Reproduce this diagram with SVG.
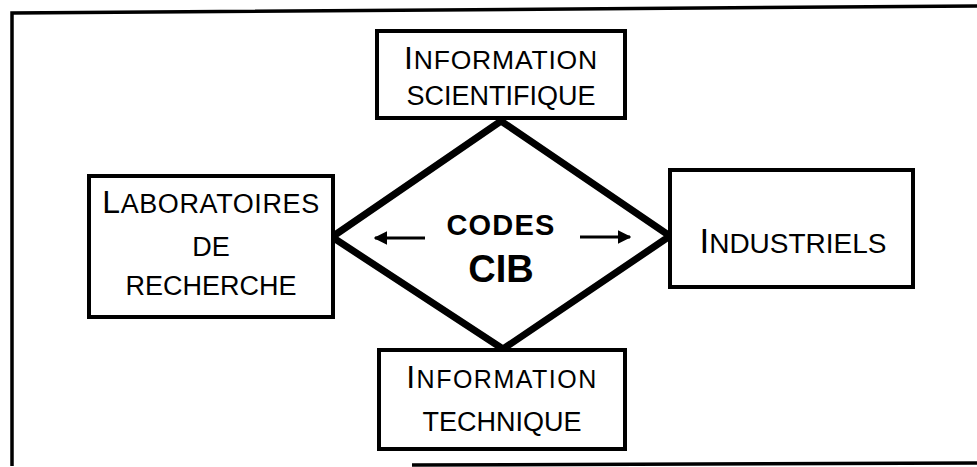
<svg xmlns="http://www.w3.org/2000/svg" width="977" height="467" viewBox="0 0 977 467">
<defs>
<style>
.box{fill:#fff;stroke:#000;stroke-width:4}
.frame{fill:none;stroke:#000;stroke-width:3.5}
.dia{fill:#fff;stroke:#000;stroke-width:7;stroke-linejoin:miter}
.t{font-family:"Liberation Sans",Arial,Helvetica,sans-serif;fill:#000;text-anchor:middle}
.b{font-weight:bold}
.arr{stroke:#000;stroke-width:3;fill:none}
</style>
<marker id="ah" viewBox="0 0 10 10" refX="9" refY="5" markerWidth="4.5" markerHeight="4.5" markerUnits="strokeWidth" orient="auto">
<path d="M0,0 L10,5 L0,10 z" fill="#000"/>
</marker>
</defs>
<rect width="977" height="467" fill="#fff"/>
<g id="frame">
<polyline class="frame" points="12,466 12,13 977,6"/>
<line class="frame" x1="412" y1="465" x2="977" y2="463"/>
</g>
<g id="codes-cib">
<polygon class="dia" points="332,237 501,121 670,236 503,349"/>
<text class="t b" x="501" y="235" font-size="29" letter-spacing="1.2">CODES</text>
<text class="t b" x="501" y="282" font-size="38">CIB</text>
</g>
<g id="info-scientifique">
<rect class="box" x="377" y="31" width="248" height="87"/>
<text class="t" x="501" y="69" letter-spacing="0.8"><tspan font-size="32">I</tspan><tspan font-size="26.5">NFORMATION</tspan></text>
<text class="t" x="501" y="105" font-size="27">SCIENTIFIQUE</text>
</g>
<g id="laboratoires">
<rect class="box" x="89" y="176" width="244" height="141"/>
<text class="t" x="211" y="213" letter-spacing="0.6"><tspan font-size="32">L</tspan><tspan font-size="27">ABORATOIRES</tspan></text>
<text class="t" x="211" y="256" font-size="27">DE</text>
<text class="t" x="211" y="295" font-size="27">RECHERCHE</text>
</g>
<g id="industriels">
<rect class="box" x="670" y="170" width="243" height="117"/>
<text class="t" x="793" y="253"><tspan font-size="35">I</tspan><tspan font-size="28">NDUSTRIELS</tspan></text>
</g>
<g id="info-technique">
<rect class="box" x="379" y="350" width="246" height="99"/>
<text class="t" x="502" y="388" letter-spacing="1.5"><tspan font-size="32">I</tspan><tspan font-size="25">NFORMATION</tspan></text>
<text class="t" x="502" y="431" font-size="27">TECHNIQUE</text>
</g>
<g id="connectors">
<line class="arr" x1="425" y1="238" x2="375" y2="238" marker-end="url(#ah)"/>
<line class="arr" x1="580" y1="237" x2="630" y2="237" marker-end="url(#ah)"/>
</g>
</svg>
